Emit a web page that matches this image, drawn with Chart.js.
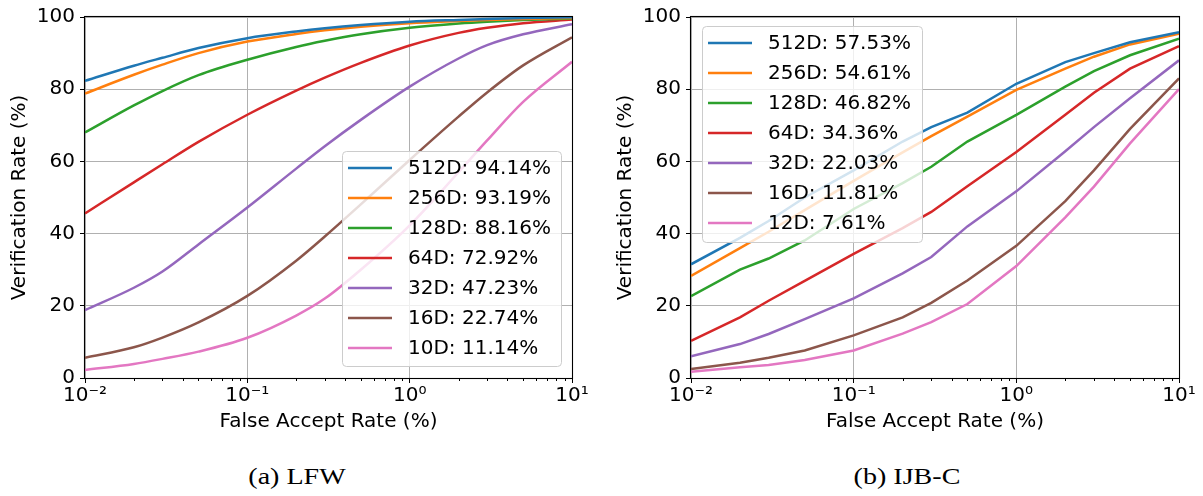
<!DOCTYPE html>
<html>
<head>
<meta charset="utf-8">
<script src="https://cdn.jsdelivr.net/npm/chart.js@4.4.1/dist/chart.umd.min.js"></script>
<style>
body { margin: 0; background: #fff; width: 1203px; height: 496px; position: relative; overflow: hidden; }
canvas { position: absolute; top: 0; }
#lfw { left: 0; }
#ijbc { left: 606px; }
.caption { position: absolute; top: 463px; width: 200px; text-align: center; line-height: 28px;
  font-family: 'Liberation Serif', serif; font-size: 23px; color: #000; transform: scaleX(1.22); }
</style>
</head>
<body>
<canvas id="lfw" width="600" height="440"></canvas>
<canvas id="ijbc" width="597" height="440"></canvas>
<div class="caption" style="left:197px">(a) LFW</div>
<div class="caption" style="left:807px">(b) IJB-C</div>
<script>
// false accept rate (%) sample points, shared by both plots
const far = [0.01, 0.02, 0.03, 0.05, 0.1, 0.2, 0.3, 0.5, 1, 2, 3, 5, 10];

const xTickValues = [0.01, 0.1, 1, 10];
const xTickLabels = ['10\u207B\u00B2', '10\u207B\u00B9', '10\u2070', '10\u00B9'];
const yTicks = [0, 20, 40, 60, 80, 100];

// LFW
const lfwLabels = ['512D: 94.14%', '256D: 93.19%', '128D: 88.16%', '64D: 72.92%', '32D: 47.23%', '16D: 22.74%', '10D: 11.14%'];
const lfw512 = [82.3, 86.5, 88.7, 91.4, 94.14, 96.0, 96.9, 97.8, 98.7, 99.2, 99.45, 99.7, 99.9];
const lfw256 = [78.8, 84.0, 86.8, 90.0, 93.19, 95.3, 96.3, 97.3, 98.3, 98.9, 99.2, 99.45, 99.7];
const lfw128 = [68.0, 75.5, 79.5, 83.9, 88.16, 91.7, 93.4, 95.2, 97.0, 98.2, 98.7, 99.15, 99.6];
const lfw64  = [45.6, 54.2, 59.2, 65.4, 72.92, 79.6, 83.2, 87.3, 92.1, 95.6, 97.0, 98.3, 99.3];
const lfw32  = [18.8, 25.0, 29.5, 37.0, 47.23, 58.0, 64.2, 71.5, 80.7, 88.5, 92.2, 95.2, 98.0];
const lfw16  = [5.6, 8.5, 11.2, 15.4, 22.74, 32.5, 39.2, 48.1, 60.4, 72.4, 79.1, 86.6, 94.4];
const lfw10  = [2.2, 3.9, 5.3, 7.3, 11.14, 17.3, 22.0, 30.0, 42.3, 57.0, 65.8, 76.5, 87.6];

// IJB-C
const ijbcLabels = ['512D: 57.53%', '256D: 54.61%', '128D: 46.82%', '64D: 34.36%', '32D: 22.03%', '16D: 11.81%', '12D: 7.61%'];
const ijbc512 = [31.5, 38.8, 43.5, 50.0, 57.53, 65.5, 69.5, 73.5, 81.5, 87.5, 90.0, 93.0, 95.8];
const ijbc256 = [28.3, 36.0, 40.5, 46.5, 54.61, 62.5, 67.0, 72.4, 79.8, 85.7, 89.0, 92.4, 95.4];
const ijbc128 = [22.7, 30.0, 33.1, 38.1, 46.82, 54.0, 58.5, 65.5, 72.9, 80.7, 85.0, 89.4, 94.0];
const ijbc64  = [10.3, 16.8, 21.4, 26.9, 34.36, 41.5, 46.0, 53.1, 62.6, 72.9, 79.0, 85.7, 91.9];
const ijbc32  = [6.0, 9.4, 12.2, 16.3, 22.03, 29.0, 33.5, 42.0, 51.7, 62.8, 69.5, 77.5, 88.0];
const ijbc16  = [2.5, 4.2, 5.6, 7.6, 11.81, 16.8, 20.8, 27.0, 36.6, 49.0, 57.5, 69.0, 83.0];
const ijbc12  = [1.7, 3.0, 3.6, 5.0, 7.61, 12.3, 15.5, 20.5, 31.0, 44.5, 53.0, 65.0, 80.0];

const colors = ['#1f77b4', '#ff7f0e', '#2ca02c', '#d62728', '#9467bd', '#8c564b', '#e377c2'];

Chart.defaults.font.family = "'DejaVu Sans', sans-serif";
Chart.defaults.color = '#000';

function isMajor(v) {
	return xTickValues.some(t => Math.abs(v / t - 1) < 1e-6);
}

// top/right spines, minor x ticks and the in-plot legend
const framePlugin = {
	id: 'frame',
	afterDatasetsDraw(chart, args, o) {
		const ctx = chart.ctx;
		const a = chart.chartArea;
		const x = chart.scales.x;
		ctx.save();
		ctx.strokeStyle = '#000';
		ctx.lineWidth = 1;
		ctx.beginPath();
		for (let d = -2; d < 1; d++) {
			for (let m = 2; m < 10; m++) {
				const px = Math.round(x.getPixelForValue(m * Math.pow(10, d))) + 0.5;
				ctx.moveTo(px, a.bottom);
				ctx.lineTo(px, a.bottom + 3);
			}
		}
		ctx.stroke();
		ctx.lineWidth = 1.1;
		ctx.strokeRect(a.left - 0.5, a.top - 0.5, a.right - a.left + 1, a.bottom - a.top + 1);

		const bx = o.corner === 'lr' ? a.right - o.mx - o.w : a.left + o.mx;
		const by = o.corner === 'lr' ? a.bottom - o.my - o.h : a.top + o.my;
		ctx.beginPath();
		ctx.roundRect(bx + 0.5, by + 0.5, o.w, o.h, 4);
		ctx.fillStyle = 'rgba(255,255,255,0.8)';
		ctx.fill();
		ctx.strokeStyle = '#cccccc';
		ctx.lineWidth = 1;
		ctx.stroke();

		ctx.font = "20px 'DejaVu Sans'";
		ctx.textBaseline = 'middle';
		ctx.textAlign = 'left';
		chart.data.datasets.forEach((ds, i) => {
			const ry = by + o.first + i * o.step;
			ctx.beginPath();
			ctx.strokeStyle = ds.borderColor;
			ctx.lineWidth = 2.5;
			ctx.moveTo(bx + 6, ry);
			ctx.lineTo(bx + 50, ry);
			ctx.stroke();
			ctx.fillStyle = '#000';
			ctx.fillText(ds.label, bx + 66, ry + 1);
		});
		ctx.restore();
	}
};

function makeChart(id, labels, series, legend, tension, rightPad) {
	return new Chart(document.getElementById(id), {
		type: 'line',
		data: {
			datasets: series.map((vals, i) => ({
				label: labels[i],
				data: far.map((f, j) => ({x: f, y: vals[j]})),
				borderColor: colors[i],
				borderWidth: 2.5,
				pointRadius: 0,
				fill: false,
				tension: tension,
				cubicInterpolationMode: tension ? 'monotone' : 'default'
			}))
		},
		options: {
			responsive: false,
			animation: false,
			events: [],
			layout: {padding: {top: 15, right: rightPad, bottom: 0, left: 0}},
			plugins: {
				legend: {display: false},
				tooltip: {enabled: false},
				frame: legend
			},
			scales: {
				x: {
					type: 'logarithmic',
					min: 0.01,
					max: 10,
					border: {display: false},
					grid: {
						color: c => isMajor(c.tick.value) ? '#b0b0b0' : 'rgba(0,0,0,0)',
						tickColor: c => isMajor(c.tick.value) ? '#000' : 'rgba(0,0,0,0)',
						tickLength: 5,
						lineWidth: 1
					},
					ticks: {
						autoSkip: false,
						maxRotation: 0,
						padding: 1,
						font: {size: 20},
						callback: v => {
							const k = xTickValues.findIndex(t => Math.abs(v / t - 1) < 1e-6);
							return k < 0 ? '' : xTickLabels[k];
						}
					},
					title: {display: true, text: 'False Accept Rate (%)', font: {size: 20}, padding: {top: 4, bottom: 6}},
					afterFit: s => { s.height = 62; }
				},
				y: {
					min: 0,
					max: 100,
					border: {display: false},
					afterBuildTicks: s => { s.ticks = yTicks.map(v => ({value: v})); },
					grid: {color: '#b0b0b0', tickColor: '#000', tickLength: 5, lineWidth: 1},
					ticks: {padding: 5, font: {size: 20}},
					title: {display: true, text: 'Verification Rate (%)', font: {size: 20}, padding: {top: 8, bottom: 0}},
					afterFit: s => { s.width = 85; }
				}
			}
		},
		plugins: [framePlugin]
	});
}

makeChart('lfw', lfwLabels, [lfw512, lfw256, lfw128, lfw64, lfw32, lfw16, lfw10],
	{corner: 'lr', mx: 11, my: 12, w: 219, h: 215, first: 17, step: 30}, 0.4, 28);

makeChart('ijbc', ijbcLabels, [ijbc512, ijbc256, ijbc128, ijbc64, ijbc32, ijbc16, ijbc12],
	{corner: 'ul', mx: 11, my: 9, w: 220, h: 216, first: 17, step: 30}, 0, 24);
</script>
</body>
</html>
